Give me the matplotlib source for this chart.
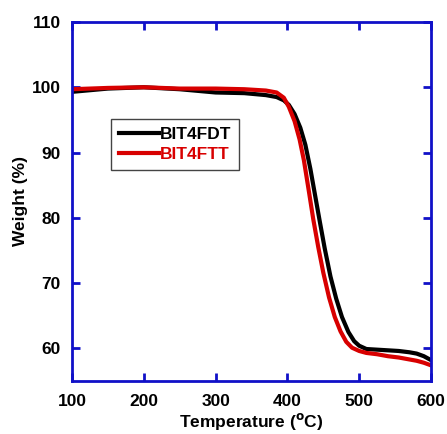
import numpy as np
import matplotlib.pyplot as plt

plt.rcParams['font.family'] = ['Liberation Sans', 'DejaVu Sans']
plt.rcParams['font.weight'] = 'bold'

# temperatures (C) and weight (%)
t_fdt = [100, 150, 200, 250, 300, 340, 370, 385, 395, 402, 410, 418, 425, 432, 438, 445, 452,
         460, 468, 476, 485, 493, 500, 510, 525, 540, 555, 570, 580, 590, 600]
w_fdt = [99.3, 99.8, 100.0, 99.7, 99.2, 99.1, 98.8, 98.5, 98.0, 97.3, 95.9, 93.8, 91.2, 87.5,
         83.8, 79.5, 75.3, 71.0, 67.6, 64.8, 62.5, 61.1, 60.4, 59.9, 59.8, 59.7, 59.6, 59.4, 59.2, 58.8, 58.2]

t_ftt = [100, 150, 200, 250, 300, 340, 370, 385, 395, 402, 410, 417, 423, 430, 436, 443, 450,
         458, 466, 474, 482, 490, 500, 510, 525, 540, 555, 570, 580, 590, 600]
w_ftt = [99.7, 99.9, 100.0, 99.8, 99.8, 99.7, 99.5, 99.2, 98.4, 97.0, 94.8, 92.0, 88.8, 84.0,
         79.8, 75.5, 71.6, 67.8, 64.8, 62.6, 61.0, 60.1, 59.6, 59.3, 59.1, 58.8, 58.6, 58.3, 58.1, 57.8, 57.4]

fig = plt.figure(figsize=(4.47, 4.34), dpi=100)
ax = fig.add_axes([72/447, 53/434, 359/447, 359/434])

ax.plot(t_fdt, w_fdt, color='black', lw=3, label='BIT4FDT')
ax.plot(t_ftt, w_ftt, color='#d80000', lw=3, label='BIT4FTT')

ax.set_xlim(100, 600)
ax.set_ylim(55, 110)
ax.set_xticks([100, 200, 300, 400, 500, 600])
ax.set_yticks([60, 70, 80, 90, 100, 110])

for s in ax.spines.values():
    s.set_color('#1010c8')
    s.set_linewidth(2)
ax.tick_params(direction='in', length=6, width=2, color='#1010c8',
               top=True, right=True, labelsize=12.5)
ax.tick_params(axis='x', pad=9)
ax.tick_params(axis='y', pad=8)

ax.set_xlabel('Temperature ($^\\mathbf{o}$C)', fontsize=12.5, fontweight='bold', labelpad=2)
ax.set_ylabel('Weight (%)', fontsize=12.5, fontweight='bold', labelpad=3)

leg = ax.legend(loc='upper left', bbox_to_anchor=(0.11, 0.73), fontsize=12.5,
                handlelength=2.3, handletextpad=0.05, borderpad=0.45,
                labelspacing=0.3, fancybox=False, framealpha=1, borderaxespad=0)
leg.get_frame().set_edgecolor('#444444')
leg.get_frame().set_linewidth(1)
for txt, c in zip(leg.get_texts(), ['black', '#d80000']):
    txt.set_color(c)
    txt.set_fontweight('bold')

fig.savefig('out.png', dpi=100)
